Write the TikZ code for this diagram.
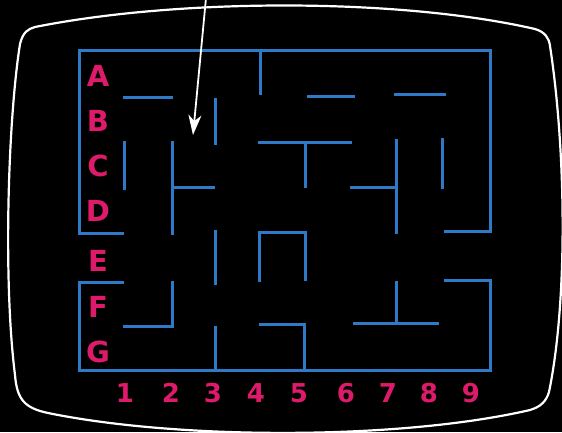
\documentclass[tikz,border=0pt]{standalone}
\usepackage{fontspec}
\setsansfont{DejaVu Sans}
\usetikzlibrary{arrows.meta}
\definecolor{mazeblue}{RGB}{46,122,198}
\definecolor{labelpink}{RGB}{222,26,106}
\begin{document}
\begin{tikzpicture}[x=1pt,y=-1pt,
  wall/.style={mazeblue, line width=3pt, line cap=rect, line join=miter},
  rowlab/.style={labelpink, font=\sffamily\bfseries\fontsize{29}{29}\selectfont, inner sep=0pt, anchor=base},
  collab/.style={labelpink, font=\sffamily\bfseries\fontsize{26}{26}\selectfont, inner sep=0pt, anchor=base},
  bezel/.style={white, line width=2.2pt},
  pointer/.style={white, line width=1.8pt, -{Stealth[length=20pt,width=13pt,inset=6pt]}}]
\fill[black] (0,0) rectangle (562,432);
\useasboundingbox (0,0) rectangle (562,432);
\begin{scope}
\clip (0,0) rectangle (562,432);
% screen bezel
\draw[bezel] (35,27) .. controls (180,-2) and (400,-2) .. (535,29)
  .. controls (545,32) and (549,38) .. (550,46)
  .. controls (566,150) and (568,300) .. (549,392)
  .. controls (546,402) and (540,407) .. (530,410)
  .. controls (400,440) and (180,440) .. (48,413)
  .. controls (25,408) and (17,400) .. (15,375)
  .. controls (3,280) and (8,120) .. (20,44)
  .. controls (23,32) and (28,29) .. (35,27) -- cycle;
\end{scope}
% outer walls
\draw[wall] (122,233) -- (79,233) -- (79,50) -- (490,50) -- (490,231) -- (445,231);
\draw[wall] (122,282) -- (79,282) -- (79,370) -- (490,370) -- (490,280) -- (445,280);
% inner walls
\draw[wall] (260,50) -- (260,93);
\draw[wall] (124,97) -- (171,97);
\draw[wall] (215,99) -- (215,143);
\draw[wall] (308,96) -- (353,96);
\draw[wall] (395,94) -- (444,94);
\draw[wall] (259,142) -- (350,142);
\draw[wall] (305,142) -- (305,186);
\draw[wall] (124,142) -- (124,188);
\draw[wall] (172,142) -- (172,233);
\draw[wall] (172,187) -- (213,187);
\draw[wall] (396,140) -- (396,232);
\draw[wall] (351,187) -- (396,187);
\draw[wall] (442,139) -- (442,187);
\draw[wall] (215,231) -- (215,283);
\draw[wall] (259,280) -- (259,232) -- (305,232) -- (305,279);
\draw[wall] (124,326) -- (172,326) -- (172,282);
\draw[wall] (215,327) -- (215,370);
\draw[wall] (260,324) -- (304,324) -- (304,370);
\draw[wall] (396,282) -- (396,323);
\draw[wall] (354,323) -- (437,323);
% row labels
\node[rowlab] (rA) at (98,86) {A};
\node[rowlab] (rB) at (98,131) {B};
\node[rowlab] (rC) at (98,176) {C};
\node[rowlab] (rD) at (98,221) {D};
\node[rowlab] (rE) at (98,271) {E};
\node[rowlab] (rF) at (98,317) {F};
\node[rowlab] (rG) at (98,362) {G};
% column labels
\node[collab] (c1) at (125,402) {1};
\node[collab] (c2) at (171,402) {2};
\node[collab] (c3) at (213,402) {3};
\node[collab] (c4) at (256,402) {4};
\node[collab] (c5) at (299,402) {5};
\node[collab] (c6) at (346,402) {6};
\node[collab] (c7) at (388,402) {7};
\node[collab] (c8) at (429,402) {8};
\node[collab] (c9) at (471,402) {9};
% pointer arrow
\coordinate (arrowstart) at (206,-2);
\coordinate (arrowtip) at (193,135);
\draw[pointer] (arrowstart) -- (arrowtip);
\end{tikzpicture}
\end{document}
